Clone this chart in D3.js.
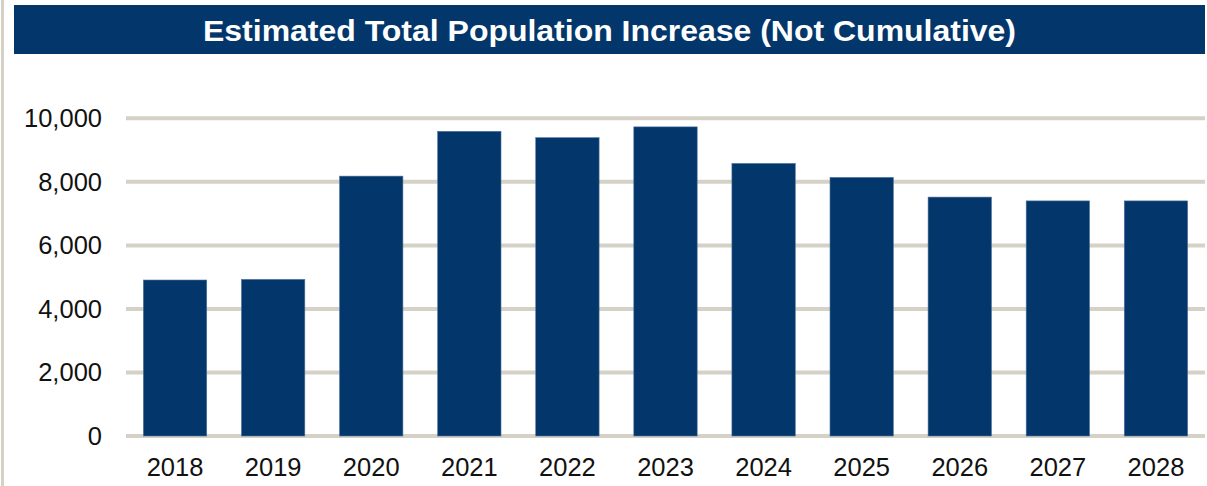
<!DOCTYPE html>
<html>
<head>
<meta charset="utf-8">
<script src="https://cdn.jsdelivr.net/npm/d3@7/dist/d3.min.js"></script>
<style>
  html, body { margin: 0; padding: 0; background: #fff; }
  svg { display: block; font-family: 'Liberation Sans', Arial, sans-serif; }
</style>
</head>
<body>
<div id="chart"></div>
<script>
const years = ['2018', '2019', '2020', '2021', '2022', '2023', '2024', '2025', '2026', '2027', '2028']
const increase = [4910, 4930, 8180, 9590, 9390, 9730, 8580, 8140, 7520, 7400, 7400]
const yTicks = [0, 2000, 4000, 6000, 8000, 10000]
const title = 'Estimated Total Population Increase (Not Cumulative)'

const width = 1207
const height = 486
const plot = { top: 118.3, bottom: 436, left: 126, right: 1205 }

const navy = '#03376b'
const gridColor = '#d5d1c6'

const svg = d3.select('#chart').append('svg')
  .attr('width', width)
  .attr('height', height)

// left border line
svg.append('rect')
  .attr('x', 1).attr('y', 0)
  .attr('width', 3).attr('height', height)
  .attr('fill', gridColor)

// title bar
svg.append('rect')
  .attr('x', 14).attr('y', 5)
  .attr('width', 1191).attr('height', 49)
  .attr('fill', navy)

svg.append('text')
  .attr('x', 14 + 1191 / 2)
  .attr('y', 41)
  .attr('text-anchor', 'middle')
  .attr('fill', '#fff')
  .attr('font-weight', 'bold')
  .attr('font-size', 29.5)
  .attr('textLength', 813)
  .attr('lengthAdjust', 'spacingAndGlyphs')
  .text(title)

const x = d3.scaleBand()
  .domain(years)
  .range([plot.left, plot.right])
  .paddingInner(0.354)
  .paddingOuter(0.177)

const y = d3.scaleLinear()
  .domain([0, 10000])
  .range([plot.bottom, plot.top])

// gridlines
svg.append('g')
  .selectAll('line')
  .data(yTicks)
  .join('line')
  .attr('x1', plot.left)
  .attr('x2', plot.right)
  .attr('y1', d => y(d))
  .attr('y2', d => y(d))
  .attr('stroke', gridColor)
  .attr('stroke-width', 4)

// bars
svg.append('g')
  .selectAll('rect')
  .data(increase)
  .join('rect')
  .attr('x', (d, i) => x(years[i]))
  .attr('y', d => y(d))
  .attr('width', x.bandwidth())
  .attr('height', d => y(0) - y(d))
  .attr('fill', navy)
  .attr('stroke', '#4f74a0')
  .attr('stroke-width', 0.6)

// y axis labels
const yAxis = d3.axisLeft(y)
  .tickValues(yTicks)
  .tickFormat(d3.format(','))
  .tickSize(0)
  .tickPadding(24)

svg.append('g')
  .attr('transform', `translate(${plot.left},0)`)
  .call(yAxis)
  .call(g => g.select('.domain').remove())
  .call(g => g.selectAll('text')
    .attr('font-size', 25.5)
    .attr('fill', '#111')
    .attr('font-family', "'Liberation Sans', Arial, sans-serif"))

// x axis labels
const xAxis = d3.axisBottom(x).tickSize(0).tickPadding(22)

svg.append('g')
  .attr('transform', `translate(0,${plot.bottom})`)
  .call(xAxis)
  .call(g => g.select('.domain').remove())
  .call(g => g.selectAll('text')
    .attr('font-size', 25.5)
    .attr('fill', '#111')
    .attr('font-family', "'Liberation Sans', Arial, sans-serif"))
</script>
</body>
</html>
